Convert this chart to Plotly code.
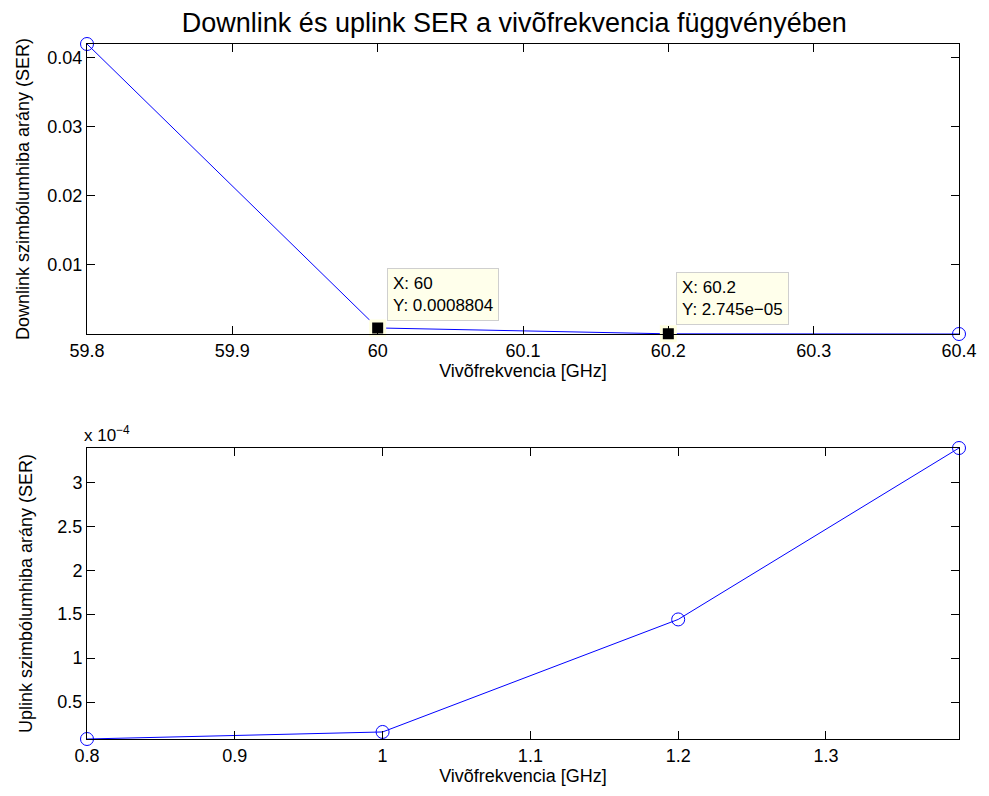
import plotly.graph_objects as go

# Downlink: carrier frequency [GHz] vs symbol error rate
dl_freq = [59.8, 60.0, 60.2, 60.4]
dl_ser = [0.042, 0.0008804, 2.745e-05, 1e-06]

# Uplink: carrier frequency [GHz] vs symbol error rate
ul_freq = [0.8, 1.0, 1.2, 1.39]
ul_ser = [0.08e-4, 0.16e-4, 1.44e-4, 3.39e-4]

# Data tips shown on the downlink curve
tip_idx = [1, 2]
tip_text = ["X: 60<br>Y: 0.0008804", "X: 60.2<br>Y: 2.745e\u221205"]

dl_xticks = [59.8, 59.9, 60.0, 60.1, 60.2, 60.3, 60.4]
dl_xticktext = ["59.8", "59.9", "60", "60.1", "60.2", "60.3", "60.4"]
dl_yticks = [0.01, 0.02, 0.03, 0.04]
dl_yticktext = ["0.01", "0.02", "0.03", "0.04"]
ul_xticks = [0.8, 0.9, 1.0, 1.1, 1.2, 1.3]
ul_xticktext = ["0.8", "0.9", "1", "1.1", "1.2", "1.3"]
ul_yticks = [0.5e-4, 1e-4, 1.5e-4, 2e-4, 2.5e-4, 3e-4]
ul_yticktext = ["0.5", "1", "1.5", "2", "2.5", "3"]

FONT = "Liberation Sans, Arial, Helvetica, sans-serif"
BLUE = "#0000FF"
TICK = 18
LABEL = 18

fig = go.Figure()

fig.add_trace(go.Scatter(
    x=dl_freq, y=dl_ser, mode="lines+markers",
    line=dict(color=BLUE, width=1),
    marker=dict(symbol="circle-open", size=13, color=BLUE, line=dict(width=1)),
    xaxis="x", yaxis="y", showlegend=False, hoverinfo="skip", cliponaxis=False,
))
fig.add_trace(go.Scatter(
    x=[dl_freq[i] for i in tip_idx], y=[dl_ser[i] for i in tip_idx], mode="markers",
    marker=dict(symbol="square", size=14, color="black",
                line=dict(color="#FFFFE0", width=3)),
    xaxis="x", yaxis="y", showlegend=False, hoverinfo="skip", cliponaxis=False,
))
fig.add_trace(go.Scatter(
    x=ul_freq, y=ul_ser, mode="lines+markers",
    line=dict(color=BLUE, width=1),
    marker=dict(symbol="circle-open", size=13, color=BLUE, line=dict(width=1)),
    xaxis="x2", yaxis="y2", showlegend=False, hoverinfo="skip", cliponaxis=False,
))

axis_common = dict(
    showgrid=False, zeroline=False, showline=True, linecolor="black", linewidth=1,
    mirror="ticks", ticks="inside", ticklen=8, tickcolor="black", tickwidth=1,
    tickfont=dict(family=FONT, size=TICK, color="black"),
)

fig.update_layout(
    width=989, height=796,
    margin=dict(l=87, r=23, t=44, b=57),
    paper_bgcolor="white", plot_bgcolor="white",
    font=dict(family=FONT, color="black"),
    title=dict(text="Downlink és uplink SER a vivõfrekvencia függvényében",
               x=0.52, xanchor="center", y=0.972, yanchor="middle",
               font=dict(family=FONT, size=27, color="black")),
    xaxis=dict(axis_common, domain=[0, 1], anchor="y", range=[59.8, 60.4],
               tickvals=dl_xticks, ticktext=dl_xticktext,
               title=dict(text="Vivõfrekvencia [GHz]", standoff=0,
                          font=dict(family=FONT, size=LABEL))),
    yaxis=dict(axis_common, domain=[0.5827, 1], anchor="x", range=[0, 0.042],
               tickvals=dl_yticks, ticktext=dl_yticktext,
               title=dict(text="Downlink szimbólumhiba arány (SER)", standoff=13,
                          font=dict(family=FONT, size=LABEL))),
    xaxis2=dict(axis_common, domain=[0, 1], anchor="y2", range=[0.8, 1.39],
                tickvals=ul_xticks, ticktext=ul_xticktext,
                title=dict(text="Vivõfrekvencia [GHz]", standoff=0,
                           font=dict(family=FONT, size=LABEL))),
    yaxis2=dict(axis_common, domain=[0, 0.4187], anchor="x2", range=[0.08e-4, 3.39e-4],
                tickvals=ul_yticks, ticktext=ul_yticktext,
                title=dict(text="Uplink szimbólumhiba arány (SER)", standoff=20,
                           font=dict(family=FONT, size=LABEL))),
)

# Exponent label of the uplink y axis
fig.add_annotation(
    xref="paper", yref="paper", x=0, y=0.4187, xanchor="left", yanchor="bottom",
    xshift=-5, yshift=1, showarrow=False,
    text="x 10<sup>\u22124</sup>", font=dict(family=FONT, size=17, color="black"),
)

# Data tip boxes
shifts = [(9, 7), (8, 9)]
for k, i in enumerate(tip_idx):
    fig.add_annotation(
        xref="x", yref="y", x=dl_freq[i], y=dl_ser[i],
        xanchor="left", yanchor="bottom", xshift=shifts[k][0], yshift=shifts[k][1],
        showarrow=False, align="left", text=tip_text[k],
        font=dict(family=FONT, size=17, color="black"),
        bgcolor="#FFFFEB", bordercolor="#CFCFCF", borderwidth=1, borderpad=5,
    )

fig.write_html("out.html")
